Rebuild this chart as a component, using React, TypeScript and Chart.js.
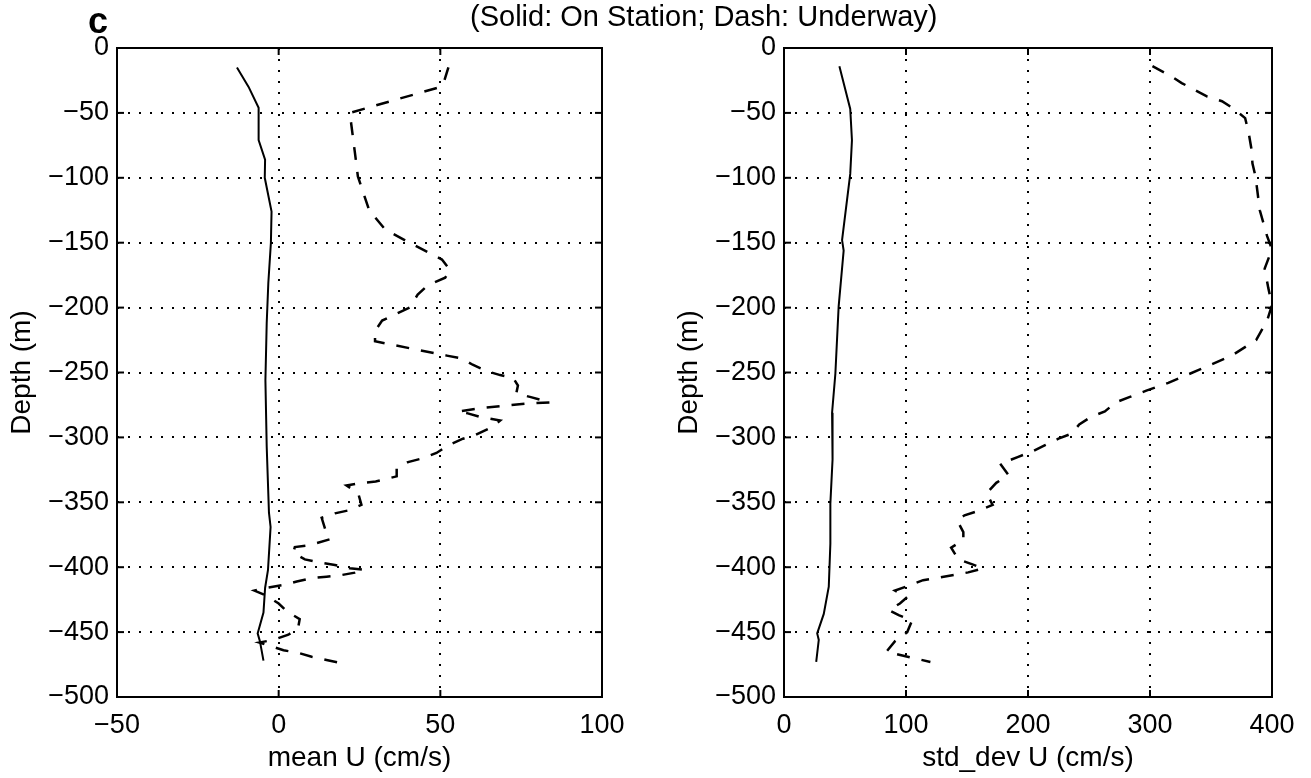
import React, { useEffect, useRef } from "react";
import { Chart, registerables } from "chart.js";

Chart.register(...registerables);

const FONT = "'Liberation Sans', Arial, Helvetica, sans-serif";

// ---- Panel 1: mean U (cm/s) ----
const meanStationDepth = [-15, -30, -46, -71, -86, -100, -126, -150, -181, -212, -256, -307, -358, -369, -402, -416, -435, -451, -457, -472];
const meanStationU = [-12.9, -9.3, -6.2, -6.2, -4.2, -4.3, -2.2, -2.4, -3.2, -3.7, -4.1, -3.7, -3.0, -2.5, -3.3, -4.2, -4.7, -6.5, -5.8, -4.7];

const meanUnderwayDepth = [
  -15, -27, -30, -50, -79, -99, -125, -140, -152, -163, -171, -177, -183, -190, -200, -204, -210, -218, -226,
  -237, -239, -244, -249, -252, -254, -260, -266, -269, -273, -274, -277, -280, -281.5, -284, -287, -292, -298,
  -301, -306, -312, -316, -319, -324, -330, -334, -335, -337, -343, -352, -356, -358.5, -362, -374, -378.5,
  -383, -384.5, -389, -394, -396.5, -398.3, -400.8, -402, -404.2, -406, -407.3, -408.5, -411, -413.7, -416,
  -418, -422, -428, -434, -440, -447, -452, -456, -458, -461, -464, -466, -469, -471.5, -474,
];
const meanUnderwayU = [
  52.5, 51, 50, 22, 23.5, 24.5, 28, 33, 42, 50.5, 53, 51.5, 46, 43, 40.5, 37, 32, 29.8, 29.8,
  52, 56.5, 60, 64.5, 68.5, 72.5, 74, 73.5, 78, 84, 76.5, 64, 55.5, 58.5, 62, 68.5, 66, 61,
  57, 52.5, 48.8, 44.7, 40, 36.5, 36.5, 30, 26, 21, 24.6, 25.6, 22, 17.4, 13.3, 14.8, 15.8,
  9.7, 5, 4.5, 8.1, 12.8, 17.4, 22, 26.5, 23.6, 19.5, 14.8, 10.2, 5.6, 1.5, -4.2,
  -7.5, -3.7, 0, 2.5, 6.5, 6, 3, -1.6, -6, -2.2, 1.5, 6.1, 10.2, 14.8, 19.5,
];

// ---- Panel 2: std_dev U (cm/s) ----
const stdStationDepth = [-14, -47, -71, -97, -148, -156, -199, -251, -281, -317, -351, -382, -415, -436, -451, -456, -473];
const stdStationU = [45.4, 54.3, 55.7, 54.3, 47.6, 48.9, 44.8, 42.1, 39.4, 39.8, 38, 38, 36.7, 32.6, 27.2, 28.5, 26.4];

const stdUnderwayDepth = [
  -14, -21, -27, -32, -37.5, -41, -47, -54, -66, -77, -89, -99, -125, -145, -155, -170, -185, -198, -210, -225,
  -237, -248, -258, -264, -269, -273, -280, -284, -290, -297, -301, -306, -311, -315, -319, -320, -329, -335,
  -343, -352, -357, -360, -364, -373, -379, -385, -394, -398, -401, -404, -408, -410, -414, -418, -423, -428,
  -433, -437, -441, -450, -457, -465, -468, -473,
];
const stdUnderwayU = [
  302, 316, 326, 336, 347, 359, 369, 378, 381, 383, 384, 386.5, 390, 396, 400, 394, 397, 400, 396, 387,
  367, 340, 315, 297, 283, 272, 263, 252, 242, 236, 225, 214, 203, 192, 181, 177, 184, 174,
  166, 171, 158, 148, 142, 147, 147, 137, 143, 155, 163, 151, 127, 114, 103, 91, 101, 95,
  86, 94, 105, 101, 91, 84, 97, 120,
];

const depthTicks = [0, -50, -100, -150, -200, -250, -300, -350, -400, -450, -500];
const meanTicks = [-50, 0, 50, 100];
const stdTicks = [0, 100, 200, 300, 400];

const fmt = (v: number) => (v < 0 ? "\u2212" + Math.abs(v) : String(v));

const pts = (xs: number[], ys: number[]) => xs.map((x, i) => ({ x, y: ys[i] }));

const boxPlugin = {
  id: "boxTicks",
  afterDraw(chart: any) {
    const { ctx, chartArea: a, scales } = chart;
    ctx.save();
    ctx.setLineDash([]);
    ctx.strokeStyle = "#000";
    ctx.lineWidth = 2;
    ctx.strokeRect(a.left, a.top, a.right - a.left, a.bottom - a.top);
    const L = 7;
    const seg = (x1: number, y1: number, x2: number, y2: number) => {
      ctx.beginPath();
      ctx.moveTo(x1, y1);
      ctx.lineTo(x2, y2);
      ctx.stroke();
    };
    scales.x.ticks.forEach((t: any) => {
      const px = scales.x.getPixelForValue(t.value);
      seg(px, a.bottom, px, a.bottom - L);
      seg(px, a.top, px, a.top + L);
    });
    scales.y.ticks.forEach((t: any) => {
      const py = scales.y.getPixelForValue(t.value);
      seg(a.left, py, a.left + L, py);
      seg(a.right, py, a.right - L, py);
    });
    ctx.restore();
  },
};

function makeConfig(
  station: { x: number; y: number }[],
  underway: { x: number; y: number }[],
  xmin: number,
  xmax: number,
  xticks: number[],
  xlabel: string,
  yWidth: number,
  yTitlePad: number,
  rightPad: number
): any {
  return {
    type: "scatter",
    data: {
      datasets: [
        {
          label: "On Station",
          data: station,
          showLine: true,
          borderColor: "#000",
          borderWidth: 2,
          pointRadius: 0,
          tension: 0,
          fill: false,
        },
        {
          label: "Underway",
          data: underway,
          showLine: true,
          borderColor: "#000",
          borderWidth: 2.5,
          borderDash: [13, 12],
          pointRadius: 0,
          tension: 0,
          fill: false,
        },
      ],
    },
    options: {
      responsive: false,
      animation: false,
      events: [],
      layout: { padding: { top: 48, right: rightPad, left: 0, bottom: 0 } },
      plugins: {
        legend: { display: false },
        tooltip: { enabled: false },
        title: { display: false },
      },
      scales: {
        x: {
          type: "linear",
          min: xmin,
          max: xmax,
          afterBuildTicks: (s: any) => {
            s.ticks = xticks.map((v) => ({ value: v }));
          },
          ticks: {
            color: "#000",
            font: { family: FONT, size: 27 },
            padding: 12,
            maxRotation: 0,
            autoSkip: false,
            callback: (v: any) => fmt(Number(v)),
          },
          grid: { color: "#000", lineWidth: 2, drawTicks: false },
          border: { display: false, dash: [2, 9] },
          title: {
            display: true,
            text: xlabel,
            color: "#000",
            font: { family: FONT, size: 28 },
            padding: { top: 0, bottom: 3 },
          },
          afterFit: (s: any) => {
            s.height = 81;
          },
        },
        y: {
          type: "linear",
          min: -500,
          max: 0,
          afterBuildTicks: (s: any) => {
            s.ticks = depthTicks.map((v) => ({ value: v }));
          },
          ticks: {
            color: "#000",
            font: { family: FONT, size: 27 },
            padding: 8,
            autoSkip: false,
            callback: (v: any) => fmt(Number(v)),
          },
          grid: { color: "#000", lineWidth: 2, drawTicks: false },
          border: { display: false, dash: [2, 9] },
          title: {
            display: true,
            text: "Depth (m)",
            color: "#000",
            font: { family: FONT, size: 28 },
            padding: { top: yTitlePad, bottom: 0 },
          },
          afterFit: (s: any) => {
            s.width = yWidth;
          },
        },
      },
    },
    plugins: [boxPlugin],
  };
}

export default function App() {
  const leftRef = useRef<HTMLCanvasElement | null>(null);
  const rightRef = useRef<HTMLCanvasElement | null>(null);

  useEffect(() => {
    if (!leftRef.current || !rightRef.current) return;
    const c1 = new Chart(
      leftRef.current,
      makeConfig(
        pts(meanStationU, meanStationDepth),
        pts(meanUnderwayU, meanUnderwayDepth),
        -50,
        100,
        meanTicks,
        "mean U (cm/s)",
        117,
        5,
        53
      )
    );
    const c2 = new Chart(
      rightRef.current,
      makeConfig(
        pts(stdStationU, stdStationDepth),
        pts(stdUnderwayU, stdUnderwayDepth),
        0,
        400,
        stdTicks,
        "std_dev U (cm/s)",
        129,
        17,
        39
      )
    );
    return () => {
      c1.destroy();
      c2.destroy();
    };
  }, []);

  return (
    <div
      style={{
        position: "absolute",
        left: 0,
        top: 0,
        width: 1311,
        height: 778,
        background: "#fff",
        overflow: "hidden",
      }}
    >
      <canvas
        ref={leftRef}
        width={655}
        height={778}
        style={{ position: "absolute", left: 0, top: 0, width: 655, height: 778 }}
      />
      <canvas
        ref={rightRef}
        width={656}
        height={778}
        style={{ position: "absolute", left: 655, top: 0, width: 656, height: 778 }}
      />
      <div
        style={{
          position: "absolute",
          left: 88,
          top: 3,
          fontFamily: FONT,
          fontWeight: "bold",
          fontSize: 36,
          lineHeight: "36px",
          color: "#000",
        }}
      >
        c
      </div>
      <div
        style={{
          position: "absolute",
          left: 470,
          top: 2,
          fontFamily: FONT,
          fontSize: 29,
          lineHeight: "29px",
          whiteSpace: "nowrap",
          color: "#000",
        }}
      >
        (Solid: On Station; Dash: Underway)
      </div>
    </div>
  );
}
